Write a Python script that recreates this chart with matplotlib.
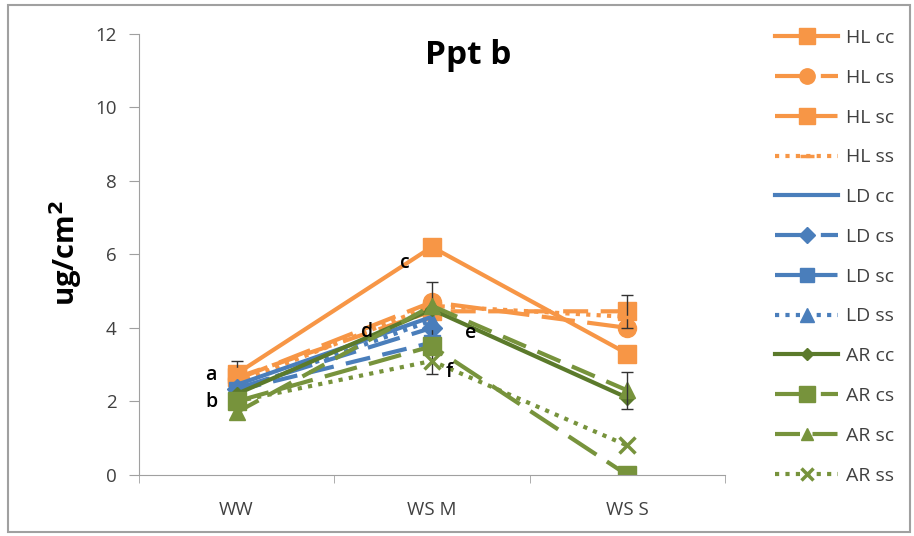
import matplotlib.pyplot as plt
import numpy as np

plt.rcParams['font.family'] = ['Open Sans', 'DejaVu Sans']

categories = ['WW', 'WS M', 'WS S']

# series values (ug/cm2), nan = not visible
hl_cc = [2.75, 6.2, 3.3]
hl_cs = [2.6, 4.7, 4.0]
hl_sc = [2.65, 4.45, 4.45]
hl_ss = [2.5, 4.6, 4.3]
ld_cc = [2.45, 4.3, np.nan]
ld_cs = [2.35, 4.0, np.nan]
ld_sc = [2.3, 3.6, np.nan]
ld_ss = [2.3, 4.2, np.nan]
ar_cc = [2.2, 4.5, 2.1]
ar_cs = [2.0, 3.5, 0.0]
ar_sc = [1.7, 4.6, 2.3]
ar_ss = [2.0, 3.1, 0.8]

# error bars (only a few are drawn in the original)
hl_cc_err = [0.35, 0, 0]
ld_cs_err = [0, 1.25, 0]
hl_sc_err = [0, 0, 0.45]
ar_sc_err = [0, 0, 0.5]

letters = ['a', 'b', 'c', 'd', 'e', 'f']
letter_x = [-0.13, -0.13, 0.86, 0.67, 1.2, 1.09]
letter_y = [2.72, 1.99, 5.77, 3.89, 3.86, 2.8]

orange = '#F79646'
blue = '#4A7EBB'
green = '#77933C'
dkgreen = '#5B7A2B'

series = [
    ('HL cc', hl_cc, orange, '-', 's', 13),
    ('HL cs', hl_cs, orange, (0, (8, 3)), 'o', 13),
    ('HL sc', hl_sc, orange, (0, (6, 3)), 's', 13),
    ('HL ss', hl_ss, orange, (0, (1, 1.5)), '_', 12),
    ('LD cc', ld_cc, blue, '-', None, 6),
    ('LD cs', ld_cs, blue, (0, (8, 3)), 'D', 10),
    ('LD sc', ld_sc, blue, (0, (6, 3)), 's', 12),
    ('LD ss', ld_ss, blue, (0, (1, 1.5)), '^', 12),
    ('AR cc', ar_cc, dkgreen, '-', 'D', 7),
    ('AR cs', ar_cs, green, (0, (8, 3)), 's', 13),
    ('AR sc', ar_sc, green, (0, (6, 3)), '^', 11),
    ('AR ss', ar_ss, green, (0, (1, 1.5)), 'x', 11),
]

errs = {'HL cc': hl_cc_err, 'LD cs': ld_cs_err, 'HL sc': hl_sc_err, 'AR sc': ar_sc_err}

fig = plt.figure(figsize=(9.14, 5.36), dpi=100)
ax = fig.add_axes([0.152, 0.114, 0.641, 0.823])
x = np.arange(len(categories))

for name, vals, col, ls, mk, ms in series:
    ax.plot(x, vals, color=col, linestyle=ls, linewidth=3, marker=mk,
            markersize=ms, markeredgewidth=2.5 if mk in ('x', '_') else 1,
            markeredgecolor=col, label=name)
    if name in errs:
        e = np.array(errs[name])
        m = e > 0
        ax.errorbar(x[m], np.array(vals)[m], yerr=e[m], fmt='none',
                    ecolor='#333333', elinewidth=1, capsize=4)

for t, lx, ly in zip(letters, letter_x, letter_y):
    ax.text(lx, ly, t, fontsize=14, fontweight='semibold', ha='center', va='center',
            color='black')

ax.set_xlim(-0.5, 2.5)
ax.set_ylim(0, 12)
ax.set_yticks(range(0, 13, 2))
ax.set_xticks(x)
ax.set_xticklabels(categories)
ax.set_xticks([-0.5, 0.5, 1.5, 2.5], minor=True)
ax.tick_params(axis='x', which='major', length=0, pad=19, labelsize=13.5, labelcolor='#404040')
ax.tick_params(axis='x', which='minor', length=6, color='#A0A0A0')
ax.tick_params(axis='y', length=7, color='#A0A0A0', labelsize=13.5, labelcolor='#404040', pad=9)
for s in ['top', 'right']:
    ax.spines[s].set_visible(False)
for s in ['left', 'bottom']:
    ax.spines[s].set_color('#A0A0A0')

fig.text(468 / 914, 1 - 55 / 536, 'Ppt b', fontsize=24, fontweight='bold',
         ha='center', va='center')
fig.text(66 / 914, 1 - 253 / 536, 'ug/cm$^\\mathbf{2}$', fontsize=21, fontweight='bold',
         ha='center', va='center', rotation=90)

fig.legend(loc='upper left', bbox_to_anchor=(775 / 914, 1 - 29 / 536), frameon=False,
           borderpad=0, borderaxespad=0, fontsize=14, handlelength=3.25,
           handletextpad=0.4, labelspacing=1.12, labelcolor='#404040',
           markerscale=0.85)

fig.patches.append(plt.Rectangle((8 / 914, 4 / 536), 1 - 12 / 914, 1 - 9 / 536,
                                 transform=fig.transFigure, fill=False,
                                 edgecolor='#A0A0A0', linewidth=1.5))

fig.savefig('out.png', dpi=100)
